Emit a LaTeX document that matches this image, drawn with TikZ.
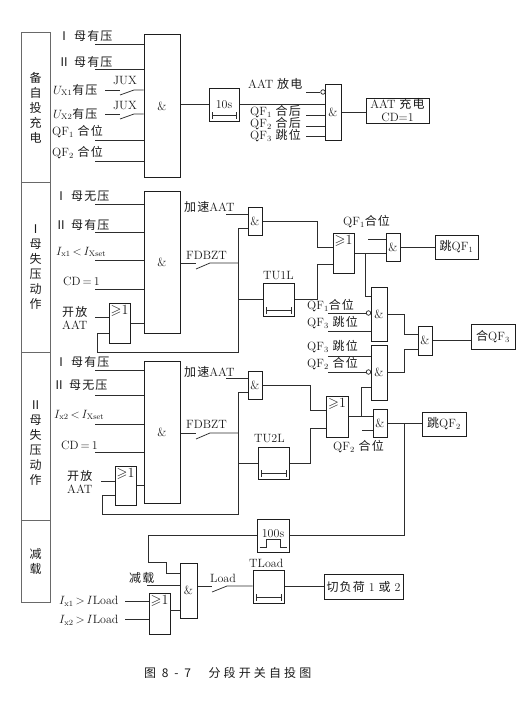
\documentclass[tikz,border=0pt]{standalone}
\usepackage{amssymb}
\usepackage{fontspec}
\newfontfamily\zhfont[LetterSpace=10]{Noto Sans CJK SC}
\newfontfamily\capfont[LetterSpace=26]{Noto Sans CJK SC}
\newcommand{\zh}[1]{{\zhfont #1}}
\begin{document}
\begin{tikzpicture}[x=1pt, y=-1pt]
  % Colors
  \definecolor{wirecol}{RGB}{45,45,45}
  \definecolor{edgecol}{RGB}{30,30,30}
  \definecolor{pancol}{RGB}{105,105,105}
  \definecolor{labcol}{RGB}{25,25,25}
  %
  \tikzset{
    wire/.style={draw=wirecol, line width=0.75pt},
    gate/.style={draw=edgecol, line width=1pt, inner sep=0pt, align=center,
                 font=\fontsize{12}{13}\selectfont, text=labcol},
    panel/.style={draw=pancol, line width=1pt, minimum width=29pt},
    pantxt/.style={inner sep=0pt, align=center, text=labcol,
                   font=\fontsize{12}{15}\selectfont\zhfont},
    lab/.style={anchor=west, inner sep=0pt, align=center, text=labcol,
                font=\fontsize{12}{13}\selectfont},
    orsym/.style={anchor=north, inner sep=0pt, yshift=-2pt, text=labcol,
                  font=\fontsize{14}{14}\selectfont},
    inv/.style={draw=edgecol, circle, line width=0.7pt, minimum size=4.5pt, inner sep=0pt},
  }
  %
  \useasboundingbox (0,0) rectangle (530,709);
  %
  % === LEFT COLUMN PANELS ===
  \foreach \nm/\yy/\hh in {pan1/107.5/149, pan2/267/170, pan3/436/168, pan4/561/82} {
    \node[panel, minimum height=\hh pt] (\nm) at (35.5,\yy) {};
  }
  \foreach \nm/\yy/\txt in {
    pant1/108/{备\\自\\投\\充\\电},
    pant2/267/{Ⅰ\\母\\失\\压\\动\\作},
    pant3/443/{Ⅱ\\母\\失\\压\\动\\作},
    pant4/561/{减\\载}%
  } {
    \node[pantxt] (\nm) at (35.5,\yy) {\txt};
  }
  %
  % === AND GATES ===
  \foreach \nm/\xx/\yy/\ww/\hh in {
    chgand/162/106/36/142,
    chgand2/333/112/16/56,
    iand/162/262/36/142,
    iacc/255/221/14/28,
    itrip/393/247/14/28,
    cl1/379/314/16/54,
    cl2/379/372.5/16/55,
    cl3/425/340.5/14/29,
    iiand/162/432/36/142,
    iiacc/255/385/14/28,
    iitrip/380/423/14/28,
    loadand/188.5/590.5/17/55%
  } {
    \node[gate, minimum width=\ww pt, minimum height=\hh pt] (\nm) at (\xx,\yy) {\&};
  }
  %
  % === OR GATES ===
  \foreach \nm/\xx/\yy/\ww/\hh in {
    ior/119.5/323/21/40,
    ior2/343.5/253/21/40,
    iior/125.5/485.5/21/39,
    iior2/337/416.5/22/41,
    loador/159.5/613.5/21/41%
  } {
    \node[gate, minimum width=\ww pt, minimum height=\hh pt] (\nm) at (\xx,\yy) {};
    \node[orsym] (\nm sym) at (\nm.north) {$\geqslant$1};
  }
  %
  % === TIMERS ===
  \foreach \nm/\xx/\yy/\ww/\hh/\txt in {
    chgtim/224/104.5/30/33/{\raisebox{-3pt}{10s}},
    itim/278.5/299.5/31/33/{},
    iitim/273.5/463/31/32/{},
    ltim/268.5/586.5/31/33/{}%
  } {
    \node[gate, minimum width=\ww pt, minimum height=\hh pt] (\nm) at (\xx,\yy) {\txt};
    \draw[wire, |-|] ([xshift=3.5pt,yshift=6pt]\nm.south west) -- ([xshift=-2.5pt,yshift=6pt]\nm.south east);
  }
  \node[gate, minimum width=32pt, minimum height=33pt] (rettim) at (273,535.5) {\raisebox{3pt}{100s}};
  \draw[wire] ([xshift=3pt,yshift=5pt]rettim.south west) -- ++(7,0) -- ++(0,-8) -- ++(14,0) -- ++(0,8) -- ++(6,0);
  %
  % === OUTPUT BOXES ===
  \node[gate, minimum width=63pt, minimum height=25pt] (chgbox) at (397.5,110.5) {AAT \zh{充电}\\CD$=$1};
  \node[gate, minimum width=43pt, minimum height=24pt] (tripbox1) at (456.5,247) {\zh{跳}QF$_1$};
  \node[gate, minimum width=44pt, minimum height=24pt] (tripbox2) at (444,424) {\zh{跳}QF$_2$};
  \node[gate, minimum width=44pt, minimum height=25pt] (clbox) at (493,336.5) {\zh{合}QF$_3$};
  \node[gate, minimum width=79pt, minimum height=25pt] (lbox) at (363.5,586.5) {\zh{切负荷} 1 \zh{或} 2};
  %
  % === LABELS ===
  \foreach \nm/\xx/\yy/\txt in {
    la1/58/36/{\zh{Ⅰ 母有压}},
    la2/58/62/{\zh{Ⅱ 母有压}},
    la3/53/90/{$U_{\mathrm{X1}}$\zh{有压}},
    la4/53/114/{$U_{\mathrm{X2}}$\zh{有压}},
    la5/52/132/{QF$_1$ \zh{合位}},
    la6/52/153/{QF$_2$ \zh{合位}},
    la7/113/81/{JUX},
    la8/113/106/{JUX},
    lb1/248/84/{AAT \zh{放电}},
    lb2/250/112/{QF$_1$ \zh{合后}},
    lb3/250/124/{QF$_2$ \zh{合后}},
    lb4/250/136/{QF$_3$ \zh{跳位}},
    lc1/55/196/{\zh{Ⅰ 母无压}},
    lc2/55/225/{\zh{Ⅱ 母有压}},
    lc3/56/252/{$I_{\mathrm{x1}}\,{<}\,I_{\mathrm{Xset}}$},
    lc4/63/281/{CD$\,{=}\,$1},
    lc5/62/317.5/{\zh{开放}\\AAT},
    lc6/184/207/{\zh{加速}AAT},
    lc7/186/255/{FDBZT},
    lc8/263/276/{TU1L},
    ld1/343/222/{QF$_1$\zh{合位}},
    ld2/307/306/{QF$_1$\zh{合位}},
    ld3/307/323/{QF$_3$ \zh{跳位}},
    ld4/307/347/{QF$_3$ \zh{跳位}},
    ld5/307/364/{QF$_2$ \zh{合位}},
    le1/55/362/{\zh{Ⅰ 母有压}},
    le2/53/385/{\zh{Ⅱ 母无压}},
    le3/54/415/{$I_{\mathrm{x2}}\,{<}\,I_{\mathrm{Xset}}$},
    le4/61/445/{CD$\,{=}\,$1},
    le5/67/481.5/{\zh{开放}\\AAT},
    le6/184/372/{\zh{加速}AAT},
    le7/186/424/{FDBZT},
    le8/254/439/{TU2L},
    le9/333/447/{QF$_2$ \zh{合位}},
    lf1/129/578/{\zh{减载}},
    lf2/59/601/{$I_{\mathrm{x1}}\,{>}\,I$Load},
    lf3/59/620/{$I_{\mathrm{x2}}\,{>}\,I$Load},
    lf4/210/578/{Load},
    lf5/249/563/{TLoad},
    lcap/144/673/{\capfont 图 8 - 7 \ \ 分段开关自投图}%
  } {
    \node[lab] (\nm) at (\xx,\yy) {\txt};
  }
  %
  % === INPUT WIRES (free end -- gate) ===
  \foreach \nm/\xx/\yy/\tgt in {
    ia1/95/44/chgand, ia2/95/69/chgand, ia3/95/140/chgand, ia4/95/161/chgand,
    ib1/306/115/chgand2, ib2/306/126/chgand2, ib3/306/136/chgand2,
    ic1/95/204/iand, ic2/95/232/iand, ic3/95/260/iand, ic4/95/289/iand, ic5/95/317/ior,
    ic6/226/214/iacc, ic7/368/239/itrip, ic8/328/331/cl1, ic9/328/356/cl2,
    ie1/95/370/iiand, ie2/95/395/iiand, ie3/95/424/iiand, ie4/95/452/iiand, ie5/101/481/iior,
    ie6/226/378/iiacc, ie7/362/430/iitrip,
    if1/147/585/loadand, if2/125/601/loador, if3/125/619/loador%
  } {
    \coordinate (\nm) at (\xx,\yy);
    \draw[wire] (\nm) -- (\nm -| \tgt.west);
  }
  %
  % === INVERTED INPUTS ===
  \foreach \nm/\xx/\yy/\cx in {nb/323/92/306, nd1/368.5/313/328, nd2/368.5/372/328} {
    \node[inv] (\nm) at (\xx,\yy) {};
    \coordinate (\nm in) at (\cx,\yy);
    \draw[wire] (\nm in) -- (\nm);
  }
  %
  % === JUX CONTACTS ===
  \foreach \nm/\yy in {jux1/90, jux2/114} {
    \coordinate (\nm) at (120,\yy);
    \coordinate (\nm a) at (105,\yy);
    \draw[wire] (\nm a) -- (\nm);
    \draw[wire] (\nm) ++(0,5) -- ++(14,-5) -- (\nm -| chgand.west);
  }
  %
  % === CHARGING PATH ===
  \draw[wire] (chgtim.west -| chgand.east) -- (chgtim.west);
  \draw[wire] (chgtim.east) -- (chgtim.east -| chgand2.west);
  \draw[wire] (chgand2.east) -- (chgand2.east -| chgbox.west);
  %
  % === BUS I LOSS OF VOLTAGE ===
  \coordinate (isw) at (196,263);
  \coordinate (ibus) at (238,263);
  \coordinate (ifb) at (109,333);
  \coordinate (ifbk) at (97,352);
  \coordinate (iacc2) at (248,228);
  \coordinate (ielb) at (317,247);
  \coordinate (ielb2) at (317,264);
  \coordinate (ibr) at (365,253);
  \coordinate (cl1in) at (371,296);
  \draw[wire] (ior.east) -- (ior.east -| iand.west);
  \draw[wire] (isw -| iand.east) -- (isw);
  \draw[wire] (isw) ++(0,6) -- ++(14,-6) -- (ibus);
  \draw[wire] (ifb) -| (ifbk) -- (ifbk -| ibus) -- (ibus |- iacc2) -- (iacc2);
  \draw[wire] (ibus |- itim.west) -- (itim.west);
  \draw[wire] (iacc.east) -| (ielb) -- (ielb -| ior2.west);
  \draw[wire] (itim.east) -| (ielb2) -- (ielb2 -| ior2.west);
  \draw[wire] (ior2.east) -- (ior2.east -| itrip.west);
  \draw[wire] (itrip.east) -- (itrip.east -| tripbox1.west);
  \draw[wire] (ibr) |- (cl1in);
  %
  % === BUS II LOSS OF VOLTAGE ===
  \coordinate (iisw) at (196,433);
  \coordinate (iibus) at (238,433);
  \coordinate (iifb) at (115,495);
  \coordinate (iifbk) at (102,514);
  \coordinate (iiacc2) at (248,392);
  \coordinate (iielb) at (310,410);
  \coordinate (iielb2) at (310,428);
  \coordinate (iibr) at (361,416.5);
  \coordinate (cl2in) at (371,387);
  \coordinate (iijn) at (404,424);
  \draw[wire] (iior.east) -- (iior.east -| iiand.west);
  \draw[wire] (iisw -| iiand.east) -- (iisw);
  \draw[wire] (iisw) ++(0,6) -- ++(14,-6) -- (iibus);
  \draw[wire] (iifb) -| (iifbk) -- (iifbk -| iibus) -- (iibus |- iiacc2) -- (iiacc2);
  \draw[wire] (iibus |- iitim.west) -- (iitim.west);
  \draw[wire] (iiacc.east) -| (iielb) -- (iielb -| iior2.west);
  \draw[wire] (iitim.east) -| (iielb2) -- (iielb2 -| iior2.west);
  \draw[wire] (iior2.east) -- (iior2.east -| iitrip.west);
  \draw[wire] (iitrip.east) -- (iitrip.east -| tripbox2.west);
  \draw[wire] (iibr) |- (cl2in);
  %
  % === CLOSE QF3 ===
  \coordinate (clj1) at (404,334);
  \coordinate (clj2) at (404,349);
  \draw[wire] (cl1.east) -| (clj1) -- (clj1 -| cl3.west);
  \draw[wire] (cl2.east) -| (clj2) -- (clj2 -| cl3.west);
  \draw[wire] (cl3.east) -- (cl3.east -| clbox.west);
  %
  % === LOAD SHEDDING ===
  \coordinate (ret1) at (148,562);
  \coordinate (ret2) at (166,573);
  \coordinate (lsw) at (212,586);
  \coordinate (lor) at (170,610);
  \draw[wire] (iijn) |- (rettim.east);
  \draw[wire] (rettim.west) -| (ret1) -| (ret2) -- (ret2 -| loadand.west);
  \draw[wire] (lor) -- (lor -| loadand.west);
  \draw[wire] (lsw -| loadand.east) -- (lsw);
  \draw[wire] (lsw) ++(0,6) -- ++(15,-6) -- (lsw -| ltim.west);
  \draw[wire] (ltim.east) -- (lbox.west);
  %
\end{tikzpicture}
\end{document}
